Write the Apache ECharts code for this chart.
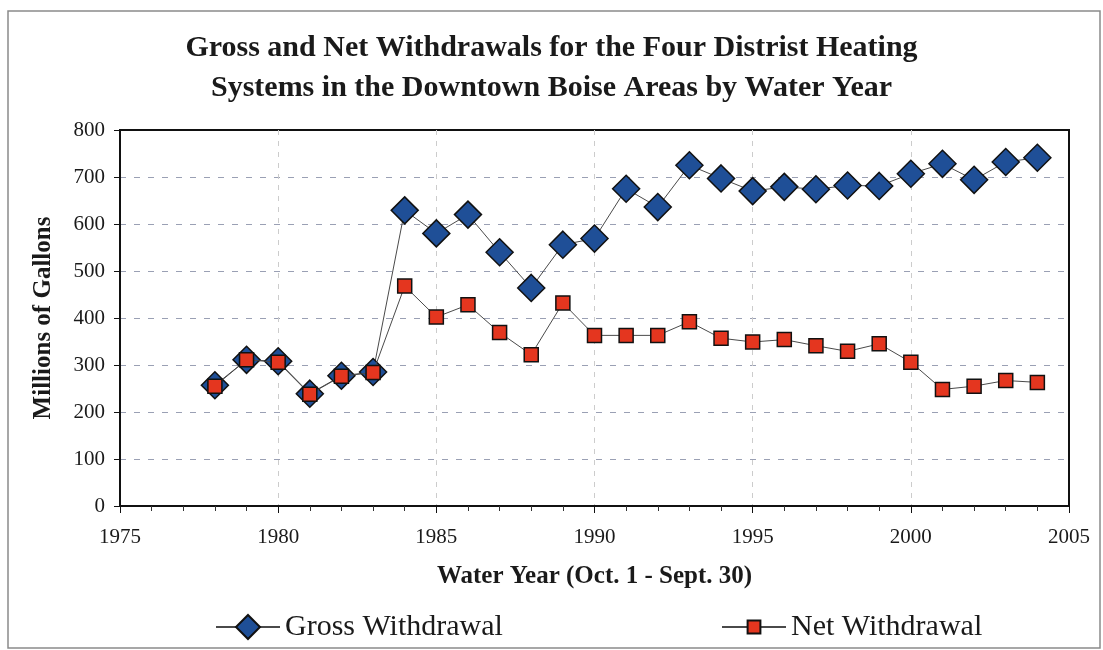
<!DOCTYPE html>
<html>
<head>
<meta charset="utf-8">
<script src="https://cdn.jsdelivr.net/npm/echarts@6/dist/echarts.min.js"></script>
<style>
  html, body { margin: 0; padding: 0; background: #ffffff; }
  #chart { width: 1103px; height: 650px; }
</style>
</head>
<body>
<div id="chart"></div>
<script>
// Water years (Oct. 1 - Sept. 30)
const years = [1978, 1979, 1980, 1981, 1982, 1983, 1984, 1985, 1986, 1987, 1988, 1989, 1990,
  1991, 1992, 1993, 1994, 1995, 1996, 1997, 1998, 1999, 2000, 2001, 2002, 2003, 2004];

// Millions of gallons withdrawn per water year
const grossWithdrawal = [257, 311, 308, 239, 277, 285, 629, 580, 620, 540, 464, 556, 569,
  675, 636, 725, 697, 670, 679, 674, 682, 681, 707, 728, 694, 732, 741];
const netWithdrawal = [255, 311, 306, 238, 276, 284, 468, 402, 428, 369, 322, 432, 363,
  363, 363, 392, 357, 349, 354, 341, 329, 345, 306, 248, 255, 267, 263];

const titleLines = ['Gross and Net Withdrawals for the Four Distrist Heating',
  'Systems in the Downtown Boise Areas by Water Year'];
const xAxisTitle = 'Water Year (Oct. 1 - Sept. 30)';
const yAxisTitle = 'Millions of Gallons';

const serif = '"Liberation Serif", "Times New Roman", serif';

function pairs(xs, ys) {
  return xs.map((x, i) => [x, ys[i]]);
}

const chart = echarts.init(document.getElementById('chart'), null, { renderer: 'canvas' });

chart.setOption({
  backgroundColor: '#ffffff',
  animation: false,
  title: {
    text: titleLines.join('\n'),
    left: 'center',
    top: 23,
    textStyle: {
      fontFamily: serif,
      fontWeight: 'bold',
      fontSize: 30,
      lineHeight: 40,
      color: '#1a1a1a'
    }
  },
  graphic: [{
    type: 'rect',
    shape: { x: 8, y: 11, width: 1092, height: 637 },
    style: { fill: 'none', stroke: '#8a8a8a', lineWidth: 1.5 },
    silent: true,
    z: -1
  }],
  legend: [{
    data: ['Gross Withdrawal'],
    left: 210,
    top: 607,
    itemWidth: 64,
    itemHeight: 30,
    itemGap: 6,
    textStyle: { fontFamily: serif, fontSize: 30, color: '#1a1a1a' }
  }, {
    data: ['Net Withdrawal'],
    left: 716,
    top: 607,
    itemWidth: 64,
    itemHeight: 16,
    textStyle: { fontFamily: serif, fontSize: 30, color: '#1a1a1a' }
  }],
  grid: {
    left: 120,
    right: 34,
    top: 130,
    bottom: 144,
    show: true,
    borderColor: '#111111',
    borderWidth: 2,
    backgroundColor: 'transparent'
  },
  xAxis: {
    type: 'value',
    min: 1975,
    max: 2005,
    interval: 5,
    name: xAxisTitle,
    nameLocation: 'middle',
    nameGap: 58,
    nameTextStyle: { fontFamily: serif, fontWeight: 'bold', fontSize: 25, color: '#1a1a1a' },
    axisLine: { show: true, lineStyle: { color: '#111111', width: 2 } },
    axisTick: { show: true, length: 7, lineStyle: { color: '#111111', width: 1 } },
    minorTick: { show: true, splitNumber: 5, length: 5, lineStyle: { color: '#333333', width: 1 } },
    axisLabel: {
      fontFamily: serif,
      fontSize: 21,
      color: '#1a1a1a',
      margin: 21,
      formatter: v => String(v)
    },
    splitLine: {
      show: true,
      showMinLine: false,
      showMaxLine: false,
      lineStyle: { color: '#cccccc', type: [5, 6], width: 1 }
    }
  },
  yAxis: {
    type: 'value',
    min: 0,
    max: 800,
    interval: 100,
    name: yAxisTitle,
    nameLocation: 'middle',
    nameGap: 64,
    nameRotate: 90,
    nameTextStyle: { fontFamily: serif, fontWeight: 'bold', fontSize: 25, color: '#1a1a1a' },
    axisLine: { show: true, lineStyle: { color: '#111111', width: 2 } },
    axisTick: { show: true, length: 6, lineStyle: { color: '#111111', width: 1 } },
    axisLabel: { fontFamily: serif, fontSize: 21, color: '#1a1a1a', margin: 15 },
    splitLine: {
      show: true,
      showMinLine: false,
      showMaxLine: false,
      lineStyle: { color: '#9aa0b4', type: [6, 8], width: 1 }
    }
  },
  series: [{
    name: 'Gross Withdrawal',
    type: 'line',
    data: pairs(years, grossWithdrawal),
    symbol: 'diamond',
    symbolSize: [27, 27],
    lineStyle: { color: '#4a4a4a', width: 1 },
    itemStyle: { color: '#1f4f97', borderColor: '#111111', borderWidth: 1.5 },
    z: 2
  }, {
    name: 'Net Withdrawal',
    type: 'line',
    data: pairs(years, netWithdrawal),
    symbol: 'rect',
    symbolSize: 14,
    lineStyle: { color: '#4a4a4a', width: 1 },
    itemStyle: { color: '#e4361f', borderColor: '#111111', borderWidth: 1.5 },
    z: 3
  }]
});
</script>
</body>
</html>
